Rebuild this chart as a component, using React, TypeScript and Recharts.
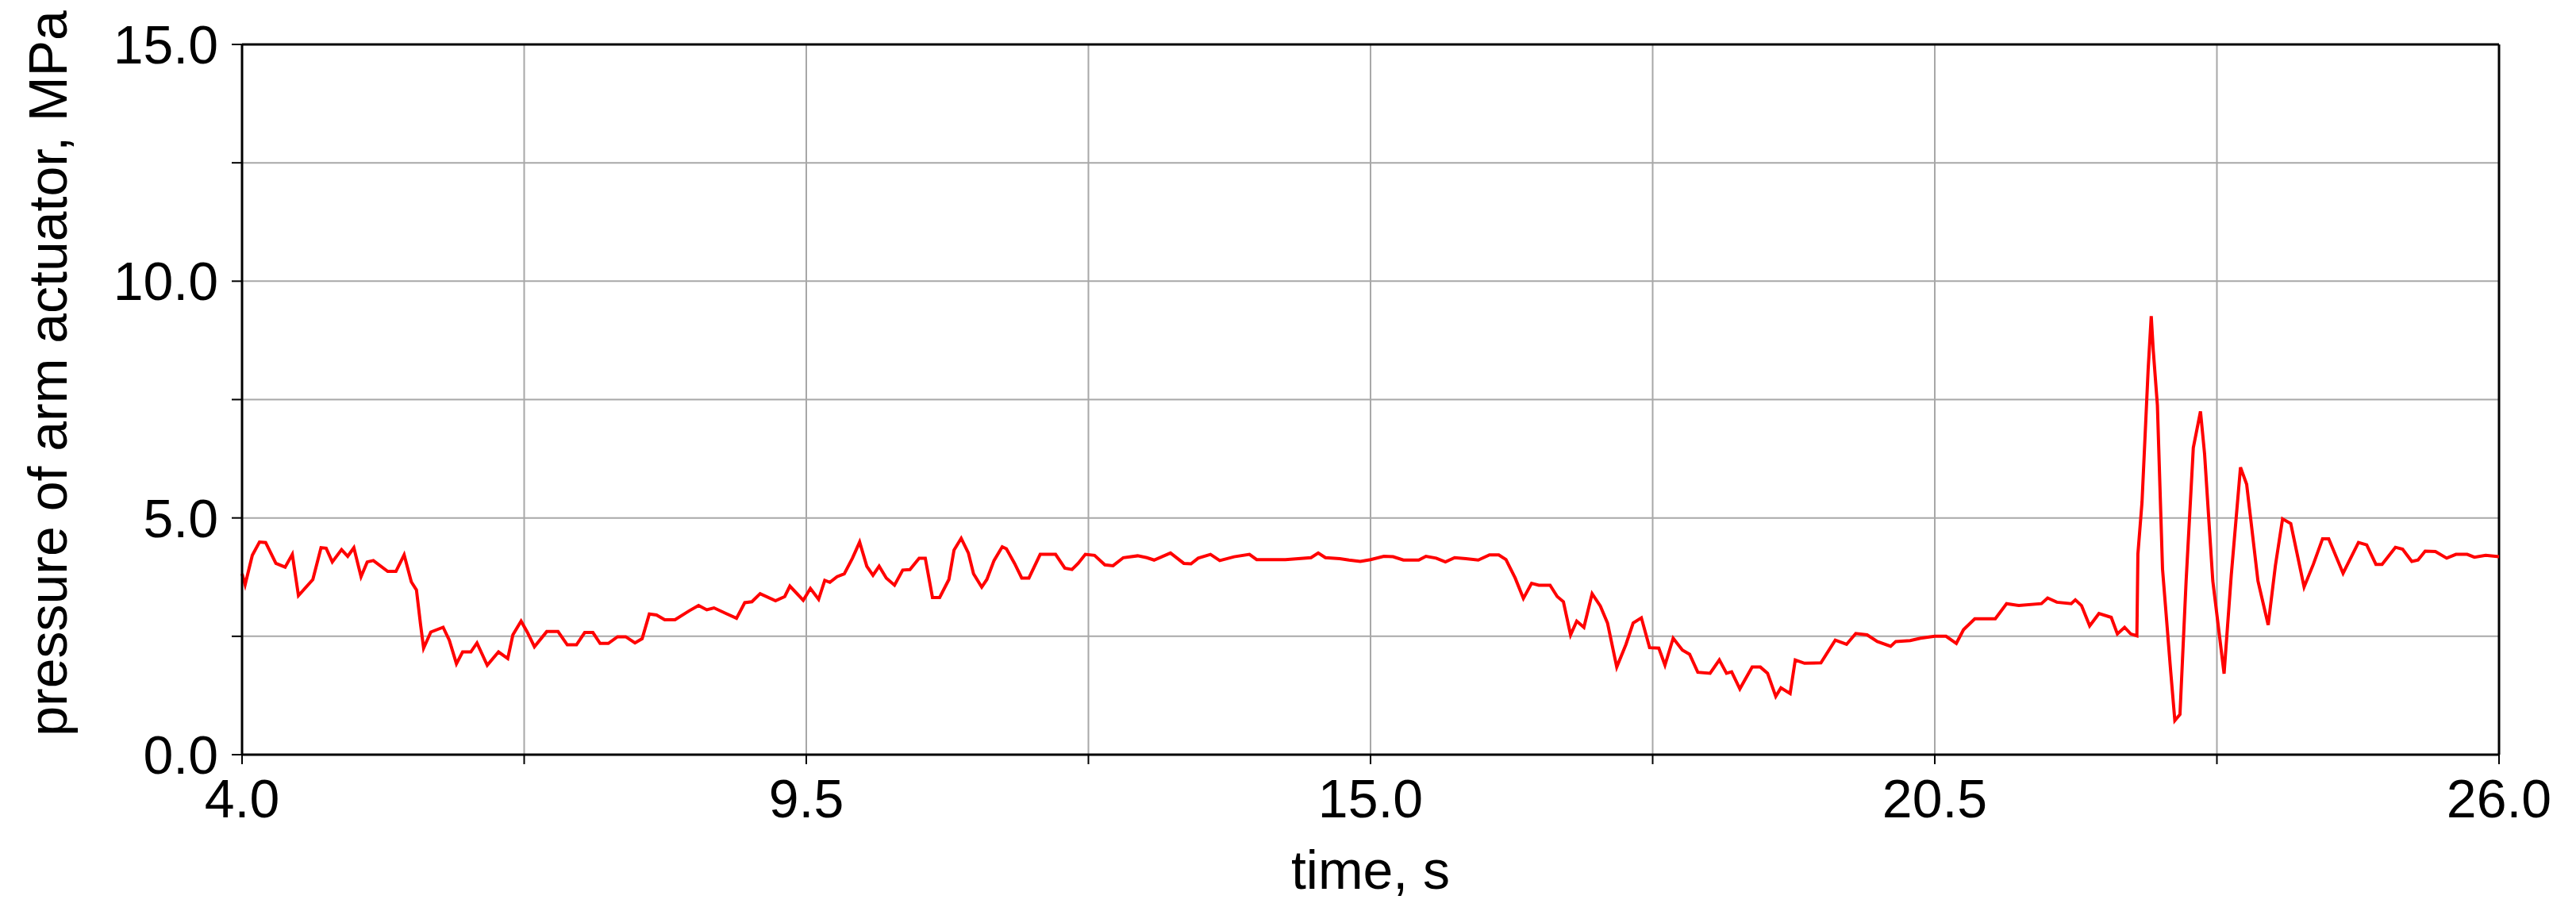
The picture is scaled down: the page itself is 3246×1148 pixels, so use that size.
import { LineChart, Line, XAxis, YAxis, CartesianGrid, ReferenceLine } from "recharts";

// time, s
const time = [
  4.0, 4.03, 4.1, 4.17, 4.23, 4.33, 4.42, 4.49, 4.55, 4.69, 4.77, 4.82, 4.88, 4.97, 5.03, 5.09,
  5.16, 5.22, 5.28, 5.42, 5.5, 5.58, 5.65, 5.7, 5.74, 5.77, 5.84, 5.96, 6.02, 6.09, 6.15, 6.23,
  6.29, 6.39, 6.5, 6.59, 6.64, 6.72, 6.78, 6.85, 6.97, 7.08, 7.17, 7.26, 7.34, 7.42, 7.49, 7.57,
  7.66, 7.74, 7.83, 7.9, 7.97, 8.04, 8.12, 8.22, 8.36, 8.45, 8.53, 8.6, 8.72, 8.82, 8.9, 8.97,
  9.05, 9.2, 9.29, 9.34, 9.47, 9.54, 9.62, 9.68, 9.73, 9.8, 9.87, 9.95, 10.02, 10.09, 10.15,
  10.21, 10.28, 10.36, 10.44, 10.51, 10.6, 10.66, 10.73, 10.8, 10.89, 10.94, 11.01, 11.08, 11.13,
  11.21, 11.26, 11.33, 11.41, 11.45, 11.53, 11.6, 11.67, 11.78, 11.93, 12.02, 12.09, 12.15, 12.22,
  12.31, 12.41, 12.49, 12.59, 12.73, 12.82, 12.89, 13.05, 13.18, 13.25, 13.32, 13.44, 13.53,
  13.67, 13.82, 13.89, 14.17, 14.42, 14.49, 14.56, 14.7, 14.79, 14.9, 15.0, 15.13, 15.22, 15.32,
  15.47, 15.54, 15.64, 15.73, 15.82, 15.93, 16.05, 16.16, 16.25, 16.32, 16.41, 16.49, 16.57,
  16.64, 16.75, 16.82, 16.88, 16.95, 17.01, 17.08, 17.16, 17.24, 17.31, 17.4, 17.49, 17.56,
  17.64, 17.72, 17.81, 17.87, 17.95, 18.04, 18.11, 18.19, 18.31, 18.4, 18.47, 18.52, 18.6, 18.72,
  18.8, 18.87, 18.95, 19.0, 19.09, 19.14, 19.23, 19.39, 19.53, 19.64, 19.73, 19.84, 19.94, 20.07,
  20.12, 20.26, 20.36, 20.5, 20.61, 20.71, 20.78, 20.89, 21.09, 21.2, 21.32, 21.54, 21.6, 21.69,
  21.83, 21.87, 21.93, 22.01, 22.1, 22.22, 22.28, 22.35, 22.41, 22.47, 22.48, 22.52, 22.58, 22.61,
  22.63, 22.67, 22.72, 22.8, 22.84, 22.89, 22.95, 23.02, 23.09, 23.13, 23.21, 23.32, 23.39, 23.48,
  23.54, 23.65, 23.75, 23.82, 23.89, 23.97, 24.1, 24.19, 24.28, 24.34, 24.48, 24.63, 24.71, 24.8,
  24.86, 24.99, 25.06, 25.15, 25.21, 25.28, 25.38, 25.49, 25.58, 25.69, 25.76, 25.87, 26.0,
];

// pressure of arm actuator, MPa
const pressure = [
  3.82, 3.59, 4.21, 4.49, 4.48, 4.04, 3.96, 4.23, 3.36, 3.7, 4.37, 4.36, 4.07, 4.33, 4.19, 4.37,
  3.76, 4.07, 4.1, 3.87, 3.87, 4.22, 3.65, 3.48, 2.75, 2.25, 2.59, 2.69, 2.42, 1.92, 2.17, 2.17,
  2.36, 1.89, 2.17, 2.03, 2.53, 2.82, 2.59, 2.28, 2.6, 2.6, 2.32, 2.32, 2.58, 2.58, 2.35, 2.35,
  2.49, 2.49, 2.36, 2.45, 2.97, 2.95, 2.85, 2.85, 3.04, 3.15, 3.06, 3.1, 2.98, 2.88, 3.21, 3.23,
  3.4, 3.25, 3.34, 3.56, 3.26, 3.51, 3.28, 3.68, 3.64, 3.76, 3.82, 4.15, 4.49, 3.98, 3.79,
  3.98, 3.73, 3.58, 3.9, 3.91, 4.15, 4.15, 3.32, 3.32, 3.7, 4.32, 4.57, 4.26, 3.82,
  3.54, 3.7, 4.1, 4.39, 4.35, 4.04, 3.73, 3.73, 4.23, 4.23, 3.94, 3.91, 4.04, 4.23,
  4.21, 4.01, 3.99, 4.16, 4.2, 4.16, 4.11, 4.26, 4.04, 4.03, 4.15, 4.23, 4.1,
  4.18, 4.23, 4.12, 4.12, 4.16, 4.26, 4.16, 4.14, 4.11, 4.08, 4.12, 4.19, 4.18, 4.11,
  4.11, 4.19, 4.15, 4.07, 4.16, 4.14, 4.11, 4.22, 4.22, 4.12, 3.73, 3.3, 3.62,
  3.58, 3.58, 3.34, 3.23, 2.53, 2.82, 2.69, 3.4, 3.14, 2.78, 1.85, 2.33, 2.78,
  2.89, 2.26, 2.25, 1.89, 2.46, 2.21, 2.12, 1.74, 1.72, 2.0, 1.72, 1.75, 1.39, 1.85,
  1.85, 1.72, 1.23, 1.41, 1.29, 2.0, 1.93, 1.94, 2.42, 2.33, 2.56, 2.53, 2.39, 2.29,
  2.39, 2.41, 2.46, 2.5, 2.5, 2.35, 2.64, 2.87, 2.87, 3.19, 3.15, 3.19, 3.31, 3.22,
  3.19, 3.27, 3.15, 2.72, 2.98, 2.9, 2.55, 2.69, 2.55, 2.51, 4.24, 5.33, 8.14, 9.26,
  8.53, 7.38, 3.92, 1.75, 0.72, 0.85, 3.67, 6.48, 7.25, 6.35, 3.67, 1.71, 3.79, 6.07,
  5.71, 3.67, 2.74, 3.99, 4.98, 4.88, 3.54, 4.02, 4.56, 4.56, 3.83, 4.48, 4.43, 4.02,
  4.02, 4.38, 4.34, 4.08, 4.11, 4.3, 4.29, 4.15, 4.23, 4.23, 4.17, 4.21, 4.18,
];

const xTicks = [4, 6.75, 9.5, 12.25, 15, 17.75, 20.5, 23.25, 26];
const xLabelled = [4, 9.5, 15, 20.5, 26];
const yTicks = [0, 2.5, 5, 7.5, 10, 12.5, 15];
const yLabelled = [0, 5, 10, 15];

const data = time.map((t, i) => ({ t, p: pressure[i] }));

const font = "'Liberation Sans', Arial, sans-serif";
const tickStyle = { fontFamily: font, fontSize: 68, fill: "#000" };

function YTitle(props: any) {
  const vb = props.viewBox || { x: 0, y: 48, width: 297, height: 895 };
  const x = vb.x + 76;
  const y = vb.y + vb.height / 2 - 33;
  return (
    <text
      x={x}
      y={y}
      transform={`rotate(-90, ${x}, ${y})`}
      textAnchor="middle"
      fontFamily={font}
      fontSize={68}
      fill="#000"
    >
      pressure of arm actuator, MPa
    </text>
  );
}

function XTitle(props: any) {
  const vb = props.viewBox || { x: 297, y: 943, width: 2844, height: 189 };
  return (
    <text
      x={vb.x + vb.width / 2}
      y={vb.y + 169}
      textAnchor="middle"
      fontFamily={font}
      fontSize={68}
      fill="#000"
    >
      time, s
    </text>
  );
}

export default function App() {
  return (
    <LineChart
      width={3230}
      height={1132}
      data={data}
      margin={{ top: 48, right: 89, bottom: 0, left: 0 }}
    >
      <CartesianGrid stroke="#a8a8a8" strokeWidth={2} />
      <XAxis
        dataKey="t"
        type="number"
        domain={[4, 26]}
        ticks={xTicks}
        interval={0}
        height={189}
        tickSize={12}
        tickMargin={19}
        tick={tickStyle}
        tickFormatter={(v: number) => (xLabelled.includes(v) ? v.toFixed(1) : "")}
        axisLine={{ stroke: "#000", strokeWidth: 3 }}
        tickLine={{ stroke: "#000", strokeWidth: 2 }}
        label={XTitle}
      />
      <YAxis
        type="number"
        domain={[0, 15]}
        ticks={yTicks}
        interval={0}
        width={297}
        tickSize={13}
        tickMargin={17}
        tick={tickStyle}
        tickFormatter={(v: number) => (yLabelled.includes(v) ? v.toFixed(1) : "")}
        axisLine={{ stroke: "#000", strokeWidth: 3 }}
        tickLine={{ stroke: "#000", strokeWidth: 2 }}
        label={YTitle}
      />
      <ReferenceLine y={15} stroke="#000" strokeWidth={3} />
      <ReferenceLine x={26} stroke="#000" strokeWidth={3} />
      <Line
        type="linear"
        dataKey="p"
        stroke="#ff0000"
        strokeWidth={4}
        dot={false}
        isAnimationActive={false}
      />
    </LineChart>
  );
}
